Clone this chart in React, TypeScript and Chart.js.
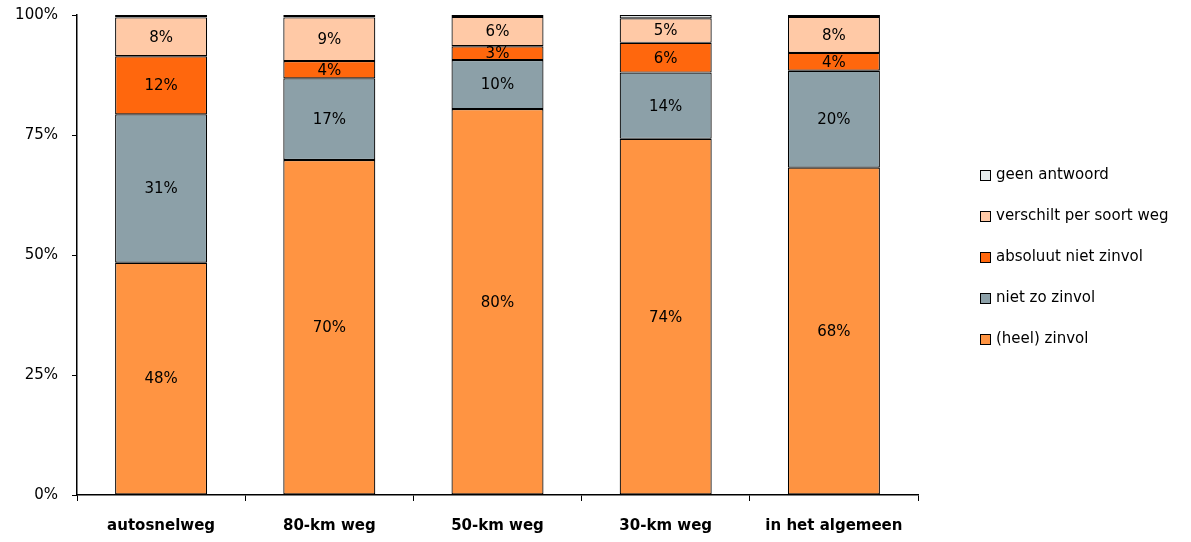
import React, { useEffect, useRef } from 'react';
import { Chart, registerables } from 'chart.js';
Chart.register(...registerables);

const categories = ['autosnelweg', '80-km weg', '50-km weg', '30-km weg', 'in het algemeen'];
const heelZinvol = [48.4, 69.8, 80.4, 74.2, 68.2];
const nietZoZinvol = [30.9, 17.0, 10.2, 13.8, 20.2];
const absoluutNietZinvol = [12.1, 3.6, 2.9, 6.2, 3.7];
const verschiltPerSoortWeg = [8.1, 9.1, 6.1, 5.1, 7.5];
const geenAntwoord = [0.5, 0.5, 0.4, 0.7, 0.4];
const seriesLabels = ['(heel) zinvol', 'niet zo zinvol', 'absoluut niet zinvol', 'verschilt per soort weg', 'geen antwoord'];
const seriesColors = ['#FF9442', '#8CA0A8', '#FF670D', '#FFC9A6', '#E6ECEC'];
const yTicks = [0, 25, 50, 75, 100];

const FONT = '"DejaVu Sans", Verdana, sans-serif';

const labelPlugin = {
  id: 'segLabels',
  afterDatasetsDraw(chart: any) {
    const ctx = chart.ctx;
    ctx.save();
    ctx.font = `15px ${FONT}`;
    ctx.fillStyle = '#000';
    ctx.textAlign = 'center';
    ctx.textBaseline = 'middle';
    chart.data.datasets.forEach((ds: any, di: number) => {
      if (di > 3) return;
      const meta = chart.getDatasetMeta(di);
      meta.data.forEach((el: any, i: number) => {
        const v = ds.data[i];
        const cy = (el.y + el.base) / 2;
        ctx.fillText(Math.round(v) + '%', el.x, cy + 1);
      });
    });
    ctx.restore();
  },
};

const legendPlugin = {
  id: 'customLegend',
  afterDraw(chart: any) {
    const ctx = chart.ctx;
    ctx.save();
    ctx.font = `15px ${FONT}`;
    ctx.textBaseline = 'middle';
    ctx.textAlign = 'left';
    const n = chart.data.datasets.length;
    const x0 = 980;
    const yTop = 175;
    const gap = 41;
    for (let k = 0; k < n; k++) {
      const ds = chart.data.datasets[n - 1 - k];
      const y = yTop + k * gap;
      ctx.fillStyle = ds.backgroundColor;
      ctx.fillRect(x0, y - 5, 10, 10);
      ctx.strokeStyle = '#000';
      ctx.lineWidth = 1;
      ctx.strokeRect(x0 + 0.5, y - 4.5, 10, 10);
      ctx.fillStyle = '#000';
      ctx.fillText(ds.label, x0 + 16, y);
    }
    ctx.restore();
  },
};

export default function App() {
  const ref = useRef<HTMLCanvasElement | null>(null);
  useEffect(() => {
    document.body.style.margin = '0';
    const values = [heelZinvol, nietZoZinvol, absoluutNietZinvol, verschiltPerSoortWeg, geenAntwoord];
    const chart = new Chart(ref.current as HTMLCanvasElement, {
      type: 'bar',
      data: {
        labels: categories,
        datasets: values.map((d, i) => ({
          label: seriesLabels[i],
          data: d,
          backgroundColor: seriesColors[i],
          borderColor: '#000',
          borderWidth: 1.2,
          borderSkipped: false,
          barPercentage: 0.547,
          categoryPercentage: 1,
        })),
      },
      options: {
        responsive: false,
        animation: false,
        maintainAspectRatio: false,
        layout: { padding: { left: 0, top: 0, right: 273, bottom: 0 } },
        plugins: { legend: { display: false }, tooltip: { enabled: false } },
        scales: {
          x: {
            stacked: true,
            afterFit: (s: any) => { s.height = 47; },
            grid: { display: true, drawOnChartArea: false, drawTicks: true, tickLength: 6, color: '#000', offset: true },
            border: { display: true, color: '#000', width: 1.5 },
            ticks: { color: '#000', font: { family: FONT, size: 15, weight: 'bold' }, padding: 16, maxRotation: 0 },
          },
          y: {
            stacked: true,
            min: 0,
            max: 100,
            afterFit: (s: any) => { s.width = 77; s.paddingTop = 15; s.paddingBottom = 0; },
            afterBuildTicks: (s: any) => { s.ticks = yTicks.map((v) => ({ value: v })); },
            grid: { display: true, drawOnChartArea: false, drawTicks: true, tickLength: 5, color: '#000' },
            border: { display: true, color: '#000', width: 1.5 },
            ticks: { color: '#000', font: { family: FONT, size: 15, lineHeight: 1 }, padding: 14, callback: (v: any) => v + '%' },
          },
        },
      },
      plugins: [labelPlugin, legendPlugin],
    });
    return () => chart.destroy();
  }, []);
  return (
    <div style={{ width: 1191, height: 542, background: '#fff' }}>
      <canvas ref={ref} width={1191} height={542} style={{ display: 'block' }} />
    </div>
  );
}
